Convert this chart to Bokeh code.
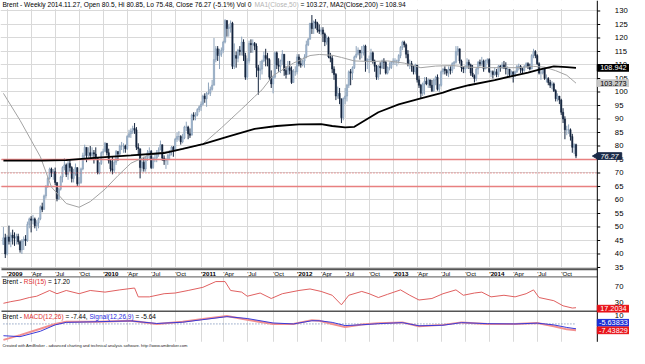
import math
import pandas as pd
from bokeh.plotting import figure
from bokeh.models import (ColumnDataSource, Range1d, FixedTicker, BoxAnnotation, Label,
                          LabelSet, Grid)
from bokeh.core.properties import value
from bokeh.embed import file_html
from bokeh.resources import INLINE

# ---------------------------------------------------------------- data
START_DATE = "2008-12-19"          # first weekly bar (Fridays)
FIRST_OPEN = 43.5

close_2008 = [46.0, 40.0]
close_2009 = [46.3, 44.7, 47.0, 46.0, 45.9, 46.5, 44.5, 41.5, 44.8, 45.5, 45.0, 51.0, 53.0,
              52.5, 53.0, 50.5, 51.5, 53.0, 57.5, 56.5, 61.5, 65.0, 68.0, 71.5, 70.0, 70.5,
              66.5, 60.5, 64.0, 68.5, 72.0, 73.0, 69.5, 73.5, 72.0, 68.0, 70.0, 72.0, 66.0,
              66.5, 71.5, 76.5, 79.5, 76.5, 77.5, 76.5, 77.5, 77.0, 75.5, 70.0, 73.5, 77.5]
close_2010 = [78.0, 81.0, 77.5, 74.5, 71.5, 71.0, 74.0, 78.0, 77.0, 80.0, 80.0, 80.0, 79.0,
              83.5, 84.5, 85.5, 86.5, 86.0, 79.5, 79.0, 72.0, 74.0, 71.5, 75.5, 77.5, 78.0,
              72.0, 75.5, 75.5, 77.5, 78.5, 80.5, 75.5, 74.5, 75.0, 76.5, 78.0, 79.5, 78.5,
              82.5, 83.5, 83.5, 81.5, 83.0, 87.0, 87.0, 84.5, 84.0, 91.5, 91.0, 91.5, 93.5, 94.5]
close_2011 = [95.5, 98.5, 97.5, 99.5, 99.5, 101.0, 102.5, 112.0, 116.0, 113.5, 114.0, 115.5,
              118.5, 126.5, 123.5, 124.0, 125.5, 109.5, 113.5, 112.5, 115.5, 115.0, 118.5,
              113.5, 105.5, 111.5, 118.0, 117.5, 118.0, 117.0, 109.0, 108.0, 108.5, 111.5,
              113.5, 112.5, 112.0, 105.5, 103.0, 105.5, 114.5, 110.0, 109.5, 111.5, 114.0,
              108.0, 106.5, 109.0, 108.0, 103.5, 107.5, 107.5]
close_2012 = [113.0, 110.5, 110.0, 111.5, 113.0, 117.5, 119.5, 125.5, 123.5, 126.0, 125.5,
              123.0, 122.5, 123.0, 121.5, 118.5, 120.0, 113.0, 112.5, 108.5, 106.5, 98.5,
              99.5, 97.5, 90.5, 97.5, 98.5, 102.5, 107.5, 107.0, 109.0, 113.0, 114.0, 115.5,
              114.5, 114.5, 117.0, 111.5, 112.0, 112.0, 114.5, 111.5, 109.5, 105.5, 109.5,
              109.0, 111.5, 111.0, 107.0, 109.0, 109.0, 111.0]
close_2013 = [111.5, 111.5, 111.5, 113.5, 116.5, 118.5, 117.5, 114.0, 110.5, 110.5, 109.5,
              107.5, 110.0, 104.5, 102.5, 99.5, 103.0, 104.0, 103.0, 104.5, 102.5, 100.5,
              104.5, 105.5, 101.0, 102.5, 107.5, 108.5, 108.0, 107.0, 108.5, 108.0, 110.5,
              111.0, 115.0, 116.0, 111.5, 109.0, 108.5, 109.5, 111.0, 110.0, 107.0, 106.0,
              105.0, 108.5, 111.0, 110.5, 111.5, 108.5, 111.5, 112.0]
close_2014 = [107.5, 107.5, 106.5, 107.5, 106.5, 109.5, 109.0, 110.0, 109.0, 108.5, 108.5,
              106.5, 107.5, 106.5, 107.5, 109.5, 109.5, 108.5, 108.0, 109.5, 110.5, 109.5,
              108.5, 113.5, 115.0, 113.5, 110.5, 107.0, 107.0, 108.5, 105.0, 105.0, 103.5,
              102.5, 103.0, 100.5, 97.5, 98.5, 97.0, 92.5, 90.0, 86.0, 86.0, 86.0, 83.5,
              79.5, 80.5, 76.27]

high_2008 = [50.0, 47.5]
high_2009 = [47.0, 50.5, 48.0, 49.0, 48.0, 47.5, 47.5, 45.0, 45.5, 46.5, 47.0, 52.0, 53.5,
             54.0, 54.5, 53.5, 52.5, 53.5, 58.0, 59.0, 62.0, 65.5, 68.5, 72.0, 72.0, 71.5,
             72.0, 66.5, 64.5, 69.0, 72.5, 75.5, 73.5, 74.5, 75.0, 72.5, 71.5, 73.5, 72.0,
             68.5, 72.0, 77.5, 80.5, 79.0, 79.5, 80.0, 79.5, 78.5, 79.5, 75.5, 74.0, 78.0]
high_2010 = [79.0, 81.5, 81.0, 79.0, 75.0, 76.0, 75.0, 78.5, 78.0, 80.5, 81.5, 81.0, 80.5,
             84.0, 86.0, 86.5, 87.5, 88.5, 87.0, 81.0, 79.0, 75.5, 76.0, 76.0, 78.5, 79.5,
             78.5, 76.0, 77.5, 78.5, 79.5, 82.0, 80.5, 76.5, 75.5, 77.0, 78.5, 80.0, 80.0,
             83.0, 85.0, 85.5, 84.0, 84.5, 87.5, 89.0, 87.5, 86.5, 92.0, 92.5, 92.5, 94.0, 95.0]
high_2011 = [96.5, 99.0, 99.5, 100.0, 103.5, 102.0, 104.5, 120.0, 117.0, 117.0, 116.0, 116.5,
             119.0, 127.0, 126.5, 125.0, 126.5, 126.0, 118.0, 115.0, 116.0, 117.0, 120.5,
             119.5, 114.5, 112.5, 119.0, 119.5, 119.5, 118.5, 118.0, 110.0, 111.5, 112.0,
             115.0, 116.0, 114.5, 112.5, 108.0, 106.0, 115.0, 115.0, 112.5, 112.0, 115.5,
             114.0, 109.5, 111.5, 111.5, 109.5, 108.5, 109.5]
high_2012 = [114.0, 114.0, 112.5, 112.0, 114.0, 119.0, 120.0, 125.5, 128.5, 126.5, 127.0,
             126.0, 125.0, 124.0, 124.0, 122.0, 121.0, 120.5, 114.5, 113.5, 109.5, 107.0,
             102.0, 101.5, 97.5, 98.0, 101.5, 103.0, 108.0, 108.5, 109.5, 113.5, 117.0, 116.5,
             115.5, 117.0, 117.5, 117.5, 112.5, 113.5, 116.0, 115.0, 112.0, 110.0, 110.0,
             111.0, 112.0, 112.5, 111.5, 109.5, 111.0, 111.5]
high_2013 = [112.5, 112.5, 112.0, 114.0, 117.0, 119.0, 119.0, 118.0, 115.5, 112.0, 111.5,
             109.5, 110.5, 110.0, 106.0, 103.0, 103.5, 105.5, 105.5, 105.0, 104.5, 104.5,
             105.0, 106.0, 106.5, 103.0, 108.0, 109.0, 109.5, 108.5, 109.5, 109.5, 111.0,
             111.5, 117.0, 117.0, 116.0, 112.0, 109.5, 110.0, 112.5, 112.0, 110.5, 110.0,
             106.5, 109.0, 111.5, 112.0, 113.0, 112.0, 112.0, 112.5]
high_2014 = [112.5, 108.0, 108.0, 109.0, 108.5, 110.0, 110.0, 111.0, 111.5, 111.0, 109.5,
             108.5, 108.0, 107.5, 108.0, 110.0, 110.5, 110.0, 109.0, 110.0, 111.0, 111.0,
             110.5, 114.0, 116.0, 115.5, 114.0, 111.0, 108.5, 109.0, 109.0, 106.5, 105.5,
             104.5, 104.0, 103.5, 101.0, 99.5, 98.5, 97.5, 94.0, 91.0, 87.5, 88.0, 86.5,
             84.5, 81.0, 80.85]

low_2008 = [43.5, 38.5]
low_2009 = [39.5, 43.5, 42.5, 43.5, 43.0, 43.5, 43.5, 40.5, 40.0, 41.5, 43.0, 44.5, 49.5,
            48.0, 51.0, 49.5, 48.5, 49.5, 52.5, 55.5, 56.5, 60.5, 64.5, 67.5, 68.5, 67.5,
            65.5, 59.5, 60.0, 63.5, 66.5, 71.0, 68.5, 67.5, 70.5, 66.5, 66.5, 69.0, 65.0,
            65.0, 66.0, 71.0, 75.5, 74.0, 75.5, 75.5, 75.5, 73.5, 75.0, 69.5, 69.5, 73.0]
low_2010 = [76.5, 78.0, 76.5, 73.5, 70.5, 69.5, 70.0, 73.0, 74.5, 76.0, 78.5, 77.5, 77.5,
            78.5, 83.0, 83.0, 84.5, 84.5, 78.5, 76.5, 68.0, 70.5, 70.5, 70.5, 74.5, 75.0,
            71.5, 71.5, 74.0, 74.0, 76.0, 78.5, 74.5, 73.0, 71.5, 73.0, 75.0, 76.5, 76.0,
            78.0, 81.5, 82.0, 80.5, 81.0, 82.5, 85.5, 82.5, 83.0, 84.0, 89.5, 89.5, 91.0, 92.5]
low_2011 = [93.0, 95.0, 96.0, 94.5, 99.0, 98.5, 100.5, 102.5, 111.0, 111.5, 108.5, 113.0,
            114.5, 118.0, 120.5, 120.5, 122.0, 108.5, 108.5, 109.0, 111.0, 113.5, 113.5,
            111.5, 104.5, 104.5, 110.5, 114.5, 114.5, 115.5, 105.5, 99.0, 104.5, 106.5,
            111.0, 109.5, 109.5, 104.5, 101.5, 99.5, 105.0, 108.5, 107.5, 107.0, 110.0,
            106.0, 105.0, 107.5, 106.5, 103.0, 103.5, 106.0]
low_2012 = [106.5, 109.5, 109.0, 109.5, 109.0, 112.5, 117.0, 119.5, 121.5, 121.5, 123.5,
            122.0, 121.5, 121.0, 118.5, 117.0, 117.5, 112.5, 111.0, 107.0, 104.5, 97.0,
            97.5, 95.5, 88.5, 89.5, 95.5, 96.5, 101.5, 102.5, 104.5, 108.5, 112.5, 113.5,
            112.0, 112.5, 113.5, 107.5, 108.5, 107.0, 111.0, 110.5, 107.5, 104.5, 104.5,
            106.5, 108.5, 108.5, 106.5, 106.5, 108.0, 108.5]
low_2013 = [110.0, 110.0, 109.5, 110.5, 112.5, 115.5, 116.5, 112.5, 109.5, 108.5, 107.5,
            106.5, 106.5, 103.5, 101.5, 97.5, 98.5, 99.0, 102.5, 101.5, 101.5, 100.0, 100.0,
            102.5, 100.5, 100.0, 102.0, 106.5, 106.5, 106.0, 105.5, 106.5, 107.0, 108.5,
            110.5, 113.5, 110.5, 107.5, 107.0, 107.0, 108.5, 108.5, 106.0, 105.5, 103.5,
            104.0, 106.5, 109.5, 109.5, 107.5, 108.5, 110.5]
low_2014 = [107.0, 105.5, 105.0, 106.0, 105.5, 105.5, 107.5, 108.5, 108.5, 106.5, 105.5,
            105.5, 105.5, 103.5, 105.5, 107.0, 108.0, 107.0, 107.0, 107.5, 109.0, 108.5,
            108.0, 108.5, 112.5, 112.5, 110.0, 106.5, 104.5, 106.5, 104.5, 103.5, 102.5,
            101.5, 101.0, 100.0, 96.5, 96.5, 95.5, 91.5, 88.5, 82.5, 84.0, 84.5, 82.0,
            77.5, 77.0, 75.48]

# moving averages (bar index, value)
ma50_idx = [0, 9, 20, 26, 34, 41, 47, 55, 62, 69, 78, 87, 97, 108, 118, 129, 136, 140, 146,
            157, 166, 171, 178, 183, 190, 199, 208, 217, 226, 234, 243, 252, 261, 270, 278,
            287, 293, 299, 305, 310]
ma50_val = [99.5, 89.5, 76.0, 64.8, 58.7, 57.3, 59.4, 64.0, 69.0, 73.6, 76.4, 77.8, 78.9,
            80.7, 86.7, 93.7, 98.3, 100.8, 106.1, 110.7, 113.5, 113.9, 113.6, 112.8, 111.5,
            111.3, 111.5, 110.7, 109.0, 109.6, 109.8, 109.2, 109.0, 109.0, 109.0, 109.5,
            109.2, 107.9, 106.2, 103.273]
ma200_idx = [0, 21, 34, 51, 69, 87, 97, 108, 122, 136, 148, 160, 172, 178, 185, 190, 203,
             214, 226, 238, 243, 252, 266, 276, 284, 290, 298, 305, 310]
ma200_val = [74.6, 74.6, 74.8, 75.7, 76.5, 77.4, 78.9, 80.7, 83.6, 86.3, 87.4, 88.0, 88.1,
             87.4, 86.9, 87.1, 92.5, 95.4, 97.6, 99.8, 101.0, 102.5, 104.4, 106.0, 107.2,
             108.3, 109.5, 109.2, 108.942]

# RSI(15)
rsi_idx = [0, 4, 9, 14, 18, 25, 29, 34, 41, 47, 55, 63, 71, 73, 79, 87, 93, 100, 108, 115,
           120, 123, 129, 132, 139, 145, 151, 160, 166, 172, 178, 183, 187, 194, 198, 203,
           208, 215, 220, 225, 232, 238, 245, 249, 255, 259, 264, 271, 277, 283, 287, 290,
           298, 303, 308, 310]
rsi_val = [28.3, 32.4, 36.5, 42.7, 46.0, 60.4, 52.3, 60.4, 52.3, 60.4, 56.3, 61.9, 66.6,
           44.4, 44.4, 52.3, 54.0, 60.4, 68.3, 82.7, 82.7, 60.4, 56.3, 46.0, 54.0, 40.3,
           52.3, 60.4, 64.2, 58.0, 48.4, 24.5, 48.4, 58.0, 52.3, 42.7, 50.8, 61.9, 48.4,
           36.5, 40.3, 52.3, 61.9, 48.4, 54.0, 56.3, 44.4, 48.4, 44.4, 52.3, 61.9, 42.7,
           34.8, 22.0, 16.4, 17.2034]

# MACD(12,26) and Signal(12,26,9)
macd_idx = [0, 9, 20, 28, 34, 51, 69, 83, 97, 108, 121, 132, 146, 157, 167, 171, 178, 185,
            194, 203, 216, 225, 238, 248, 262, 277, 289, 298, 305, 310]
macd_val = [-18.5, -13.0, -5.6, 0.0, 2.6, 2.6, 3.7, 0.0, 2.6, 5.6, 9.2, 4.8, 0.0, 0.0, 4.4,
            3.7, 0.0, -3.7, -0.7, 0.7, 1.8, -2.6, -1.1, 1.8, 0.0, 0.0, 1.1, -2.6, -6.3,
            -7.43829]
signal_val = [-13.7, -14.8, -8.5, -1.1, 1.8, 2.6, 3.5, 0.5, 2.0, 5.0, 8.5, 6.3, 1.1, 0.0,
              3.7, 3.7, 1.8, -1.9, -1.0, 0.3, 1.5, -2.2, -1.5, 1.5, 0.3, 0.0, 0.9, -1.1,
              -4.1, -5.63833]

PRICE_TICKS = list(range(35, 131, 5))
RSI_TICKS = [70, 30]
MACD_TICKS = [10]
SUPPORT_LINES = [75, 65]
MID_LINE = 70
MONTH_LABELS = {4: "Apr", 7: "Jul", 10: "Oct"}

TITLE_PARTS = [("Brent - Weekly 2014.11.27, Open 80.5, Hi 80.85, Lo 75.48, Close 76.27 (-5.1%) Vol 0 ", "#000000"),
               ("MA1(Close,50) ", "#b4b4b4"),
               ("= 103.27, MA2(Close,200) = 108.94", "#000000")]
RSI_PARTS = [("Brent - ", "#000000"), ("RSI(15) ", "#e03030"), ("= 17.20", "#000000")]
MACD_PARTS = [("Brent - ", "#000000"), ("MACD(12,26) ", "#e03030"), ("= -7.44, ", "#000000"),
              ("Signal(12,26,9) ", "#2a2ae0"), ("= -5.64", "#000000")]
FOOTER = "Created with AmiBroker - advanced charting and technical analysis software. http://www.amibroker.com"

# ---------------------------------------------------------------- build series
closes = close_2008 + close_2009 + close_2010 + close_2011 + close_2012 + close_2013 + close_2014
highs = high_2008 + high_2009 + high_2010 + high_2011 + high_2012 + high_2013 + high_2014
lows = low_2008 + low_2009 + low_2010 + low_2011 + low_2012 + low_2013 + low_2014
opens = [FIRST_OPEN] + closes[:-1]
n = len(closes)
idx = list(range(n))
dates = pd.date_range(START_DATE, periods=n, freq="W-FRI")

UP_FILL, UP_LINE, UP_WICK = "#aabed5", "#7f96b0", "#8ea4bc"
DN = "#15253e"
up = [c >= o for o, c in zip(opens, closes)]
src = ColumnDataSource(dict(
    x=idx, h=highs, l=lows,
    top=[max(o, c) for o, c in zip(opens, closes)],
    bot=[min(o, c) for o, c in zip(opens, closes)],
    fill=[UP_FILL if u else DN for u in up],
    line=[UP_LINE if u else DN for u in up],
    wick=[UP_WICK if u else DN for u in up],
))

# ---------------------------------------------------------------- geometry (reference pixels)
W, H = 629, 348
REF_W, REF_H = 645, 364
F_L, F_R, F_T, F_B = 1, 612, 9, 357
BAR0_X, BAR_DX = 3.0, 1.894
P_REF, P_Y, P_PX = 75.0, 166.3, 2.824
R_REF, R_Y, R_PX = 70.0, 299.3, 0.4175
M_Y, M_PX = 338.3, 0.9
SC = 0.965
FONT = "Liberation Sans"


def x_at(xr):
    return (xr - BAR0_X) / BAR_DX


def price_at(yr):
    return P_REF - (yr - P_Y) / P_PX


def rsi_at(yr):
    return R_REF - (yr - R_Y) / R_PX


def macd_at(yr):
    return -(yr - M_Y) / M_PX


def rsi_to_price(v):
    return price_at(R_Y + (R_REF - v) * R_PX)


def macd_to_price(v):
    return price_at(M_Y - v * M_PX)


X0, X1 = x_at(0), x_at(REF_W)
PXU = W / (X1 - X0)
XL, XR = x_at(F_L), x_at(F_R)

AW = {' ': .278, '!': .278, '%': .889, "'": .191, '(': .333, ')': .333, ',': .278, '-': .333,
      '.': .278, '/': .278, ':': .278, '=': .584}
AW.update({d: .556 for d in "0123456789"})
AW.update(dict(A=.667, B=.667, C=.722, D=.722, E=.667, F=.611, G=.778, H=.722, I=.278, J=.5,
               K=.667, L=.556, M=.833, N=.722, O=.778, P=.667, Q=.778, R=.722, S=.667, T=.611,
               U=.722, V=.667, W=.944, X=.667, Y=.667, Z=.611))
AW.update(dict(a=.556, b=.556, c=.5, d=.556, e=.556, f=.278, g=.556, h=.556, i=.222, j=.222,
               k=.5, l=.222, m=.833, n=.556, o=.556, p=.556, q=.556, r=.333, s=.5, t=.278,
               u=.556, v=.5, w=.722, x=.5, y=.5, z=.5))


def text_w(s, size):
    return sum(AW.get(ch, .556) for ch in s) * size


# ---------------------------------------------------------------- figure (frame = whole canvas)
p = figure(width=W, height=H, x_range=Range1d(X0, X1),
           y_range=Range1d(price_at(REF_H), price_at(0)),
           output_backend="svg", toolbar_location=None,
           x_axis_location=None, y_axis_location=None, min_border=0,
           background_fill_color="white", border_fill_color="white", outline_line_color=None)
p.extra_y_ranges = {"rsi": Range1d(rsi_at(REF_H), rsi_at(0)),
                    "macd": Range1d(macd_at(REF_H), macd_at(0))}

q_idx = [i for i in range(1, n) if dates[i].month in (1, 4, 7, 10) and dates[i].month != dates[i - 1].month]

p.grid.visible = False
p.add_layout(Grid(dimension=0, ticker=FixedTicker(ticks=q_idx), grid_line_color="#d9d9d9"), "center")
p.add_layout(Grid(dimension=1, ticker=FixedTicker(ticks=PRICE_TICKS), grid_line_color="#d9d9d9"), "center")

# white masks over the grid outside the panes (drawn just above the grid)
for kw in (dict(left=XR), dict(top=price_at(0), bottom=price_at(F_T)),
           dict(top=price_at(F_B), bottom=price_at(REF_H)),
           dict(top=price_at(281), bottom=price_at(289))):
    p.add_layout(BoxAnnotation(fill_color="white", fill_alpha=1, line_color=None,
                               level="underlay", **kw), "center")

# candles
p.segment(x0="x", y0="l", x1="x", y1="h", color="wick", line_width=1, source=src)
p.vbar(x="x", width=0.72, top="top", bottom="bot", fill_color="fill", line_color="line",
       line_width=0.5, source=src)

# support lines
p.segment(x0=[XL] * len(SUPPORT_LINES), x1=[XR] * len(SUPPORT_LINES),
          y0=SUPPORT_LINES, y1=SUPPORT_LINES, line_color="#e88080", line_width=1.6)
p.segment(x0=[XL], x1=[XR], y0=[MID_LINE], y1=[MID_LINE], line_color="#e05050",
          line_width=1, line_dash="1 2")

# moving averages
p.line(ma50_idx, ma50_val, line_color="#a3a3a3", line_width=1)
p.line(ma200_idx, ma200_val, line_color="black", line_width=1.8)

# RSI
p.line(rsi_idx, rsi_val, y_range_name="rsi", line_color="#e06060", line_width=1)

# MACD
p.line([macd_idx[0], macd_idx[-1]], [0, 0], y_range_name="macd", line_color="#5a78a8",
       line_width=1, line_dash="1 2")
p.line(macd_idx, macd_val, y_range_name="macd", line_color="#f29090", line_width=2)
p.line(macd_idx, signal_val, y_range_name="macd", line_color="#3a3ad8", line_width=1)

# pane separators and right scale line
sep_y = [price_at(281), price_at(289), price_at(325)]
p.segment(x0=[XL] * 3, x1=[XR] * 3, y0=sep_y, y1=sep_y, line_color=["#555555", "#777777", "#555555"],
          line_width=[2, 1.2, 1.5])
p.segment(x0=[XR], x1=[XR], y0=[price_at(0)], y1=[price_at(F_B)], line_color="black", line_width=1)

# right scale: ticks + labels
scale_y = PRICE_TICKS + [rsi_to_price(v) for v in RSI_TICKS] + [macd_to_price(v) for v in MACD_TICKS]
scale_t = [str(v) for v in PRICE_TICKS + RSI_TICKS + MACD_TICKS]
p.segment(x0=[XR] * len(PRICE_TICKS), x1=[x_at(F_R + 3)] * len(PRICE_TICKS),
          y0=PRICE_TICKS, y1=PRICE_TICKS, line_color="black", line_width=1)
p.text(x=[x_at(630)] * len(scale_y), y=scale_y, text=scale_t, text_font=value(FONT),
       text_font_size=f"{8 * SC:.1f}px", text_align="left", text_baseline="middle",
       text_color="black")

# last-value tags (boxes + texts)
TAG_H = 7.0 / P_PX
tag_specs = [
    # (y in price units, text, fill, text colour, style, left edge (ref px))
    (ma200_val[-1], f"{ma200_val[-1]:.3f}", "#000000", "white", "normal", F_R),
    (ma50_val[-1], f"{ma50_val[-1]:.3f}", "#c8c8c8", "black", "normal", F_R),
    (closes[-1], f"{closes[-1]:.2f}", "#1b2b48", "white", "italic", F_R),
    (rsi_to_price(rsi_val[-1]) - 1.0 / P_PX, f"{rsi_val[-1]:.4f}", "#e8141a", "white", "normal", F_R),
    (macd_to_price(signal_val[-1]) + 6.3 / P_PX, f"{signal_val[-1]:.5f}", "#1c2fd8", "white", "normal", F_R),
    (macd_to_price(macd_val[-1]), f"{macd_val[-1]:.5f}", "#e8141a", "white", "normal", F_R),
]
right_edges = [REF_W, REF_W, 637, REF_W, REF_W, REF_W]
tag_src = ColumnDataSource(dict(
    x=[x_at((t[5] + r) / 2) for t, r in zip(tag_specs, right_edges)],
    w=[(r - t[5]) / BAR_DX for t, r in zip(tag_specs, right_edges)],
    y=[t[0] for t in tag_specs], t=[t[1] for t in tag_specs],
    fill=[t[2] for t in tag_specs], tc=[t[3] for t in tag_specs],
    st=[t[4] for t in tag_specs],
))
p.rect(x="x", y="y", width="w", height=TAG_H, fill_color="fill", line_color="fill",
       source=tag_src)
p.scatter(x=[x_at(F_R - 1.5)], y=[closes[-1]], marker="triangle", size=6,
          angle=math.pi / 2, fill_color="#1b2b48", line_color="#1b2b48")
p.text(x="x", y="y", text="t", text_color="tc", text_font=value(FONT),
       text_font_style="st", text_font_size=f"{7.6 * SC:.1f}px", text_align="center",
       text_baseline="middle", source=tag_src)

# date labels
band_y = price_at(285.3)
yr_i = [i for i in q_idx if dates[i].month == 1]
mo_i = [i for i in q_idx if dates[i].month != 1]
yr_src = ColumnDataSource(dict(x=yr_i, y=[band_y] * len(yr_i), t=["'" + str(dates[i].year) for i in yr_i]))
mo_src = ColumnDataSource(dict(x=mo_i, y=[band_y] * len(mo_i), t=["'" + MONTH_LABELS[dates[i].month] for i in mo_i]))
for s, style in ((yr_src, "bold"), (mo_src, "normal")):
    p.add_layout(LabelSet(x="x", y="y", text="t", source=s, text_font=value(FONT),
                          text_font_size=value(f"{6.4 * SC:.1f}px"), text_font_style=value(style),
                          text_align="left", text_baseline="middle", text_color="black"))


def seg_labels(xr, yr, parts, size):
    x = x_at(xr)
    for txt, col in parts:
        p.add_layout(Label(x=x, y=price_at(yr), text=txt, text_color=col, text_font=FONT,
                           text_font_size=f"{size:.2f}px", text_align="left",
                           text_baseline="middle"))
        x += text_w(txt, size) / PXU


seg_labels(2, 4.6, TITLE_PARTS, 6.86 * SC)
seg_labels(2, 294.2, RSI_PARTS, 6.75 * SC)
seg_labels(2, 331.0, MACD_PARTS, 6.75 * SC)
seg_labels(2, 360.4, [(FOOTER, "#222222")], 4.2 * SC)

open("out.html", "w").write(file_html(p, INLINE))
